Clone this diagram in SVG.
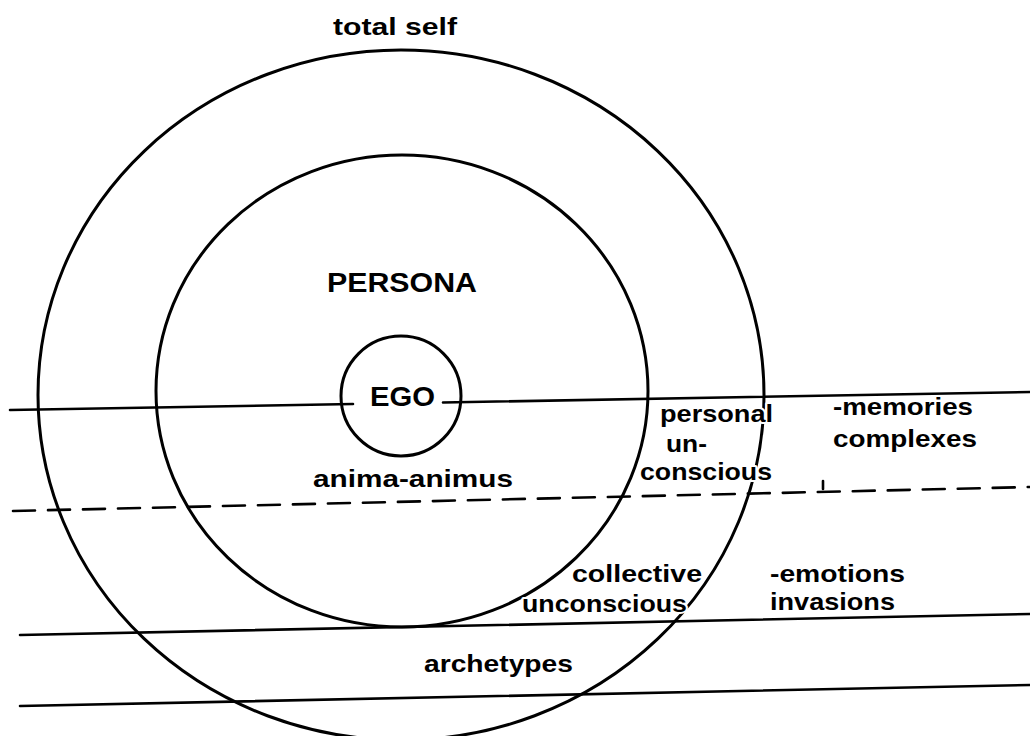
<svg xmlns="http://www.w3.org/2000/svg" width="1030" height="736" viewBox="0 0 1030 736">
  <style>
    .ring { fill: none; stroke: #000; stroke-width: 3; }
    .rule { fill: none; stroke: #000; stroke-width: 2.6; stroke-linecap: round; }
    .dash { stroke-dasharray: 22 13; }
    .lbl { font-family: "Liberation Sans", Arial, sans-serif; font-weight: bold; fill: #000; font-size: 24px; }
    .big { font-size: 27px; }
    .halo { stroke: #fff; stroke-width: 4; paint-order: stroke; stroke-linejoin: round; }
  </style>
  <rect width="1030" height="736" fill="#fff"/>

  <!-- level boundaries -->
  <g id="connectors">
    <line class="rule" x1="10" y1="410" x2="353" y2="404"/>
    <line class="rule" x1="443" y1="402.5" x2="1030" y2="392"/>
    <line class="rule dash" x1="13" y1="511" x2="1030" y2="487"/>
    <line class="rule" x1="20" y1="635" x2="1030" y2="614"/>
    <line class="rule" x1="20" y1="706" x2="1030" y2="685"/>
    <line class="rule" x1="823" y1="481" x2="823" y2="489" stroke-width="2"/>
  </g>

  <g id="total-self">
    <ellipse class="ring" cx="401" cy="395" rx="363" ry="345"/>
    <text class="lbl" x="333" y="35" textLength="124" lengthAdjust="spacingAndGlyphs">total self</text>
  </g>

  <g id="persona">
    <ellipse class="ring" cx="402" cy="391" rx="246" ry="236"/>
    <text class="lbl big" x="327" y="292" textLength="150" lengthAdjust="spacingAndGlyphs">PERSONA</text>
  </g>

  <g id="ego">
    <circle class="ring" cx="401" cy="396" r="60" stroke-width="2.4"/>
    <text class="lbl big" x="370" y="406" textLength="65" lengthAdjust="spacingAndGlyphs">EGO</text>
  </g>

  <g id="anima-animus">
    <text class="lbl" x="313" y="487" textLength="200" lengthAdjust="spacingAndGlyphs">anima-animus</text>
  </g>

  <g id="personal-unconscious">
    <text class="lbl halo" x="660" y="422" textLength="113" lengthAdjust="spacingAndGlyphs">personal</text>
    <text class="lbl halo" x="666" y="452" textLength="41" lengthAdjust="spacingAndGlyphs">un-</text>
    <text class="lbl halo" x="640" y="480" textLength="132" lengthAdjust="spacingAndGlyphs">conscious</text>
  </g>

  <g id="memories-complexes">
    <text class="lbl" x="833" y="415" textLength="140" lengthAdjust="spacingAndGlyphs">-memories</text>
    <text class="lbl" x="833" y="447" textLength="144" lengthAdjust="spacingAndGlyphs">complexes</text>
  </g>

  <g id="collective-unconscious">
    <text class="lbl halo" x="572" y="582" textLength="130" lengthAdjust="spacingAndGlyphs">collective</text>
    <text class="lbl halo" x="522" y="612" textLength="165" lengthAdjust="spacingAndGlyphs">unconscious</text>
  </g>

  <g id="emotions-invasions">
    <text class="lbl" x="770" y="582" textLength="135" lengthAdjust="spacingAndGlyphs">-emotions</text>
    <text class="lbl" x="770" y="610" textLength="125" lengthAdjust="spacingAndGlyphs">invasions</text>
  </g>

  <g id="archetypes">
    <text class="lbl" x="424" y="672" textLength="149" lengthAdjust="spacingAndGlyphs">archetypes</text>
  </g>
</svg>
